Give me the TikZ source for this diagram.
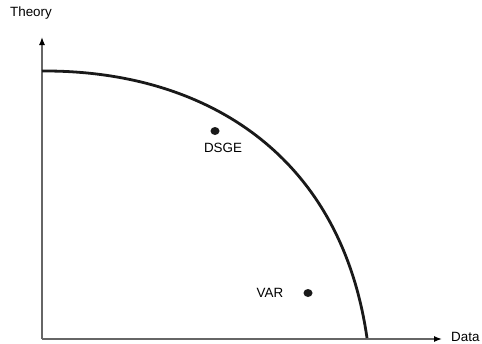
\documentclass[tikz,border=0pt]{standalone}
\usepackage{fontspec}
\setmainfont{Liberation Sans}
\usetikzlibrary{arrows.meta}
\begin{document}
\begin{tikzpicture}[x=1pt,y=-1pt,
  axis/.style={draw=black!60,line width=1.3pt,-{Latex[length=8pt,width=6pt,fill=black,color=black]}},
  lbl/.style={font=\fontsize{13.4}{15}\selectfont,inner sep=0pt},
  dotfill/.style={fill=black!90},
  frontier/.style={line width=2.8pt,black!90}]
\useasboundingbox (0,0) rectangle (482,343);
\coordinate (o) at (42,339);
\coordinate (ytip) at (42,37);
\coordinate (xtip) at (442,339);
\draw[axis] (o) -- (ytip);
\draw[axis] (o) -- (xtip);
\node[lbl] (theory) at (31,13) {Theory};
\node[lbl,anchor=west] (data) at (451,337) {Data};
\coordinate (f0) at (42,71);
\coordinate (f1) at (367,338);
\draw[frontier] (f0) .. controls (200,70) and (340,150) .. (f1);
\coordinate (dsgedot) at (215,131);
\fill[dotfill] (dsgedot) ellipse (4.5pt and 4pt);
\node[lbl] (dsge) at (223,147.5) {DSGE};
\coordinate (vardot) at (308,293);
\fill[dotfill] (vardot) ellipse (4.5pt and 4pt);
\node[lbl] (var) at (270,293) {VAR};
\end{tikzpicture}
\end{document}
